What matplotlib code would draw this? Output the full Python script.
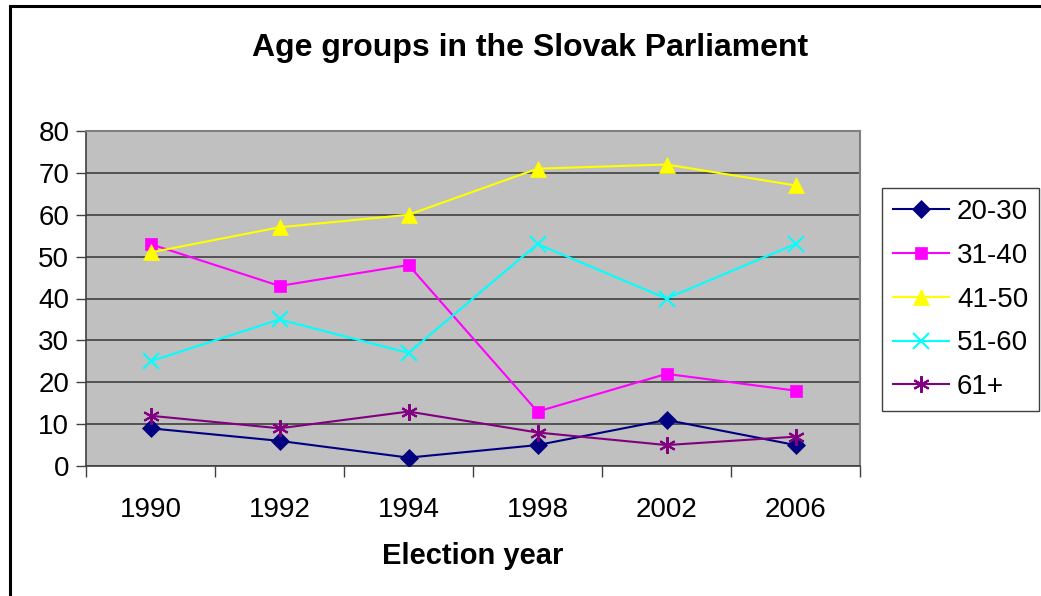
import matplotlib
matplotlib.use("Agg")
import matplotlib.pyplot as plt
from matplotlib.patches import Rectangle
from matplotlib.ticker import FixedLocator

plt.rcParams["font.family"] = ["Liberation Sans", "DejaVu Sans"]

# ── Data ─────────────────────────────────────────────────────────────────────
years = ["1990", "1992", "1994", "1998", "2002", "2006"]
age_20_30 = [9, 6, 2, 5, 11, 5]
age_31_40 = [53, 43, 48, 13, 22, 18]
age_41_50 = [51, 57, 60, 71, 72, 67]
age_51_60 = [25, 35, 27, 53, 40, 53]
age_61_up = [12, 9, 13, 8, 5, 7]

series = [
    ("20-30", age_20_30, "#000080", "D", 9),
    ("31-40", age_31_40, "#FF00FF", "s", 9),
    ("41-50", age_41_50, "#FFFF00", "^", 11),
    ("51-60", age_51_60, "#00FFFF", "x", 11),
    ("61+",   age_61_up, "#800080", (6, 2, 0), 12),
]

fig = plt.figure(figsize=(10.41, 5.96), dpi=100)
ax = fig.add_axes([86 / 1041, 130 / 596, 774 / 1041, 335 / 596])
ax.set_facecolor("#C0C0C0")

x = list(range(len(years)))
for label, vals, color, marker, ms in series:
    ax.plot(x, vals, color=color, linewidth=1.5, marker=marker, markersize=ms,
            markeredgewidth=1.5 if marker in ("x", (6, 2, 0)) else 0.5,
            markeredgecolor=color, label=label, zorder=3)

ax.set_ylim(0, 80)
ax.set_yticks(range(0, 81, 10))
ax.grid(axis="y", color="#404040", linewidth=1.2, zorder=1)
ax.set_axisbelow(True)

ax.set_xlim(-0.5, len(years) - 0.5)
ax.xaxis.set_major_locator(FixedLocator([i - 0.5 for i in range(len(years) + 1)]))
ax.xaxis.set_minor_locator(FixedLocator(x))
ax.set_xticklabels([], minor=False)
ax.set_xticklabels(years, minor=True)
ax.tick_params(axis="x", which="major", length=8, width=1, color="#404040", direction="out")
ax.tick_params(axis="x", which="minor", length=0, pad=22, labelsize=20)
ax.tick_params(axis="y", length=7, width=1, color="#404040", direction="out", pad=5, labelsize=20)

for side in ("top", "right"):
    ax.spines[side].set_color("#808080")
    ax.spines[side].set_linewidth(1.5)
for side in ("left", "bottom"):
    ax.spines[side].set_color("#404040")
    ax.spines[side].set_linewidth(1.2)

ax.set_xlabel("Election year", fontsize=21, fontweight="bold", labelpad=14)
fig.text(530 / 1041, 1 - 48 / 596, "Age groups in the Slovak Parliament",
         ha="center", va="center", fontsize=23, fontweight="bold")

leg = fig.legend(loc="upper left", bbox_to_anchor=(882 / 1041, 1 - 188 / 596),
                 fontsize=20, frameon=True, fancybox=False, edgecolor="#404040",
                 framealpha=1, borderpad=0.4, labelspacing=0.64, handlelength=2.0,
                 handletextpad=0.3, borderaxespad=0)
leg.get_frame().set_linewidth(1.0)

# outer chart border
fig.patches.append(Rectangle((10 / 1041, -0.05), 1.1, 1 - 6 / 596 + 0.05,
                             transform=fig.transFigure, fill=False,
                             edgecolor="black", linewidth=2.2))

fig.savefig("out.png", dpi=100)
